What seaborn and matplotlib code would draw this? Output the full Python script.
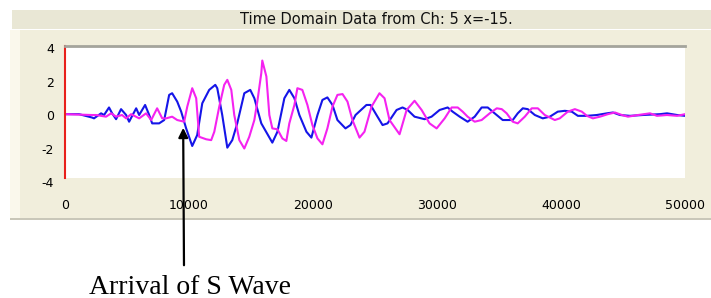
import numpy as np
import pandas as pd
import matplotlib
matplotlib.use("Agg")
from matplotlib import pyplot as plt
from matplotlib.patches import Rectangle
import seaborn as sns

# blue trace (time, amplitude)
blue_t = [0, 1130, 2180, 2340, 2910, 3150, 3550, 3800, 4120, 4520, 4930, 5170, 5740, 5980,
          6460, 6790, 7030, 7590, 8000, 8400, 8640, 9050, 9370, 9770, 10260, 10660, 11070,
          11630, 12120, 12280, 12680, 13090, 13490, 13890, 14460, 14940, 15270, 15830, 16720,
          17130, 17690, 18090, 18500, 18900, 19470, 19870, 20360, 20760, 21160, 21570, 21970,
          22620, 23020, 23430, 24310, 24640, 25120, 25610, 26010, 26740, 27220, 27630, 28190,
          29000, 29560, 30210, 30860, 31260, 31830, 32470, 33040, 33600, 34090, 34650, 35300,
          36110, 36510, 36920, 37320, 37890, 38530, 39100, 39740, 40310, 40870, 41360, 42090,
          42890, 43700, 44190, 44750, 45560, 46610, 47980, 48550, 49360, 50000]
blue_v = [0.05, 0.05, -0.15, -0.2, 0.1, 0.0, 0.45, 0.1, -0.25, 0.35, 0.0, -0.4, 0.4, 0.0,
          0.6, 0.0, -0.5, -0.5, -0.3, 1.2, 1.3, 0.8, 0.2, -0.8, -1.85, -1.2, 0.7,
          1.5, 1.8, 1.6, 0.0, -1.95, -1.5, -0.5, 1.3, 1.5, 1.0, -0.5, -1.65,
          -1.0, 1.0, 1.5, 1.0, 0.0, -1.0, -1.35, 0.0, 0.9, 1.05, 0.6, -0.3,
          -0.8, -0.6, 0.0, 0.6, 0.6, 0.0, -0.6, -0.5, 0.3, 0.45, 0.3, -0.1,
          -0.25, -0.1, 0.3, 0.45, 0.2, -0.1, -0.4, -0.1, 0.45, 0.45, 0.1, -0.3,
          -0.3, 0.1, 0.4, 0.35, 0.0, -0.2, -0.1, 0.2, 0.25, 0.2, -0.05, -0.05,
          0.0, 0.1, 0.15, 0.0, -0.05, 0.0, 0.05, 0.1, 0.0, -0.05]

# magenta trace
mag_t = [0, 2180, 2500, 3310, 3720, 4120, 4600, 4930, 5330, 5980, 6540, 6950, 7430, 7840,
         8160, 8640, 9050, 9610, 9860, 10260, 10580, 10820, 11390, 11790, 12040, 12440,
         12840, 13090, 13410, 13650, 14060, 14460, 14860, 15270, 15510, 15830, 15910, 16240,
         16480, 16720, 17130, 17530, 17850, 18090, 18500, 18740, 19140, 19550, 19950, 20360,
         20760, 21160, 21570, 21970, 22380, 22780, 23180, 23750, 24150, 24720, 25360, 25770,
         26170, 26980, 27550, 28190, 28760, 29400, 29970, 30620, 31180, 31670, 32070, 32470,
         33040, 33600, 34250, 34820, 35220, 35620, 36110, 36510, 37080, 37640, 38130, 38690,
         39500, 39900, 40550, 41120, 41680, 42090, 42570, 43140, 43780, 44350, 44910, 45400,
         46210, 47180, 47740, 48550, 49360, 50000]
mag_v = [0.05, 0.0, 0.0, -0.1, 0.1, -0.1, 0.0, -0.2, 0.05, -0.2, 0.1, -0.3, 0.4, -0.2,
         -0.2, -0.1, -0.3, -0.4, 0.5, 1.6, 1.0, -1.3, -1.45, -1.5, -1.0, 0.5,
         1.8, 2.1, 1.5, 0.0, -1.5, -2.0, -1.3, -0.3, 0.8, 2.5, 3.25, 2.3,
         0.0, -0.8, -0.85, -1.4, -1.55, -0.5, 0.6, 1.6, 1.5, 0.6, -0.6, -1.4,
         -1.75, -0.8, 0.5, 1.2, 1.25, 0.8, -0.3, -1.35, -1.0, 0.5, 1.3, 1.0,
         -0.3, -1.15, 0.3, 0.85, 0.3, -0.5, -0.8, -0.2, 0.45, 0.45, 0.2, -0.1,
         -0.4, -0.3, 0.1, 0.4, 0.35, 0.1, -0.4, -0.5, -0.1, 0.4, 0.4, 0.0,
         -0.3, -0.2, 0.2, 0.35, 0.2, -0.05, -0.2, -0.1, 0.05, 0.15, 0.0, -0.1,
         0.0, 0.1, -0.05, 0.0, -0.05, 0.05]

x_ticks = [0, 10000, 20000, 30000, 40000, 50000]
y_ticks = [-4, -2, 0, 2, 4]
title = "Time Domain Data from Ch: 5 x=-15."
arrival_t = 9530
arrival_v = -0.6

df_blue = pd.DataFrame({"t": blue_t, "v": blue_v})
df_mag = pd.DataFrame({"t": mag_t, "v": mag_v})

sns.set_style("white")
plt.rcParams['font.family'] = ['DejaVu Sans']

W, H = 711, 298
fig = plt.figure(figsize=(W / 100, H / 100), dpi=100)
fig.patch.set_facecolor("white")

def fx(px):
    return px / W

def fy(py):
    return 1 - py / H

# beige window panels behind the plot
fig.add_artist(Rectangle((fx(10), fy(218)), fx(701), 188 / H, transform=fig.transFigure,
                         facecolor="#F1EEDC", edgecolor="none", zorder=0))
fig.add_artist(Rectangle((fx(10), fy(218)), fx(10), 188 / H, transform=fig.transFigure,
                         facecolor="#FAF8EC", edgecolor="none", zorder=0))
fig.add_artist(Rectangle((fx(10), fy(220)), fx(701), 2 / H, transform=fig.transFigure,
                         facecolor="#C9C7B9", edgecolor="none", zorder=0))
fig.add_artist(Rectangle((fx(12), fy(29)), fx(699), 19 / H, transform=fig.transFigure,
                         facecolor="#E9E7D5", edgecolor="none", zorder=0))
fig.text(fx(376), fy(20), title, ha="center", va="center", fontsize=10.5, color="#111111")

ax = fig.add_axes([fx(65), fy(182), fx(620), 136 / H])
ax.set_facecolor("none")
# white plotting area stops a little above the -4 tick
ax.add_patch(Rectangle((0, 4 / 136), 1, 132 / 136, transform=ax.transAxes,
                       facecolor="white", edgecolor="none", zorder=0))
sns.lineplot(data=df_blue, x="t", y="v", color="#1515E8", lw=1.5, ax=ax)
sns.lineplot(data=df_mag, x="t", y="v", color="#F522F0", lw=1.5, ax=ax)

ax.set_xlim(0, 50000)
ax.set_ylim(-4, 4.12)
ax.set_xticks(x_ticks)
ax.set_yticks(y_ticks)
ax.set_xticklabels([str(v) for v in x_ticks])
ax.set_yticklabels([str(v) for v in y_ticks])
ax.set_xlabel("")
ax.set_ylabel("")
ax.tick_params(axis="both", direction="out", length=6, width=1, color="black",
               labelsize=9, labelcolor="black", pad=2)
ax.tick_params(axis="x", pad=6)
for side in ["right", "bottom"]:
    ax.spines[side].set_visible(False)
ax.spines["left"].set_color("#E8201C")
ax.spines["left"].set_linewidth(1.5)
ax.spines["left"].set_bounds(-3.76, 4.12)
ax.spines["top"].set_color("#A4A49C")
ax.spines["top"].set_linewidth(2)

ax.annotate("", xy=(arrival_t, arrival_v), xycoords="data",
            xytext=(fx(184), fy(268)), textcoords="figure fraction",
            arrowprops=dict(arrowstyle="-|>", color="black", lw=1.6, mutation_scale=14),
            annotation_clip=False, zorder=10)
fig.text(fx(190), fy(287), "Arrival of S Wave", ha="center", va="center",
         family="Liberation Serif", fontsize=20, color="black")

fig.savefig("out.png", dpi=100)
